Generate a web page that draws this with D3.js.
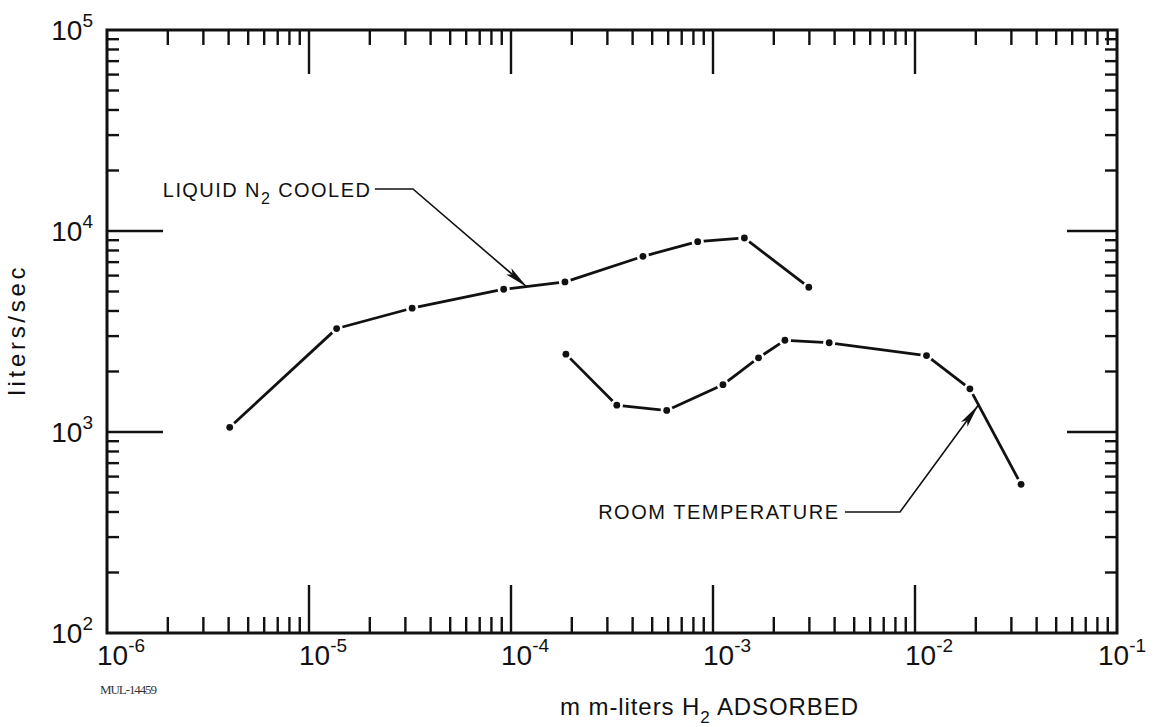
<!DOCTYPE html>
<html>
<head>
<meta charset="utf-8">
<script src="https://cdn.jsdelivr.net/npm/d3@7"></script>
<style>
  html, body { margin: 0; padding: 0; background: #fff; }
  svg { display: block; }
</style>
</head>
<body>
<div id="chart"></div>
<script>
// values (mm-liters H2 adsorbed vs liters/sec)
const n2Adsorbed = [4.05e-6, 1.37e-5, 3.24e-5, 9.2e-5, 1.85e-4, 4.5e-4, 8.4e-4, 1.43e-3, 2.98e-3];
const n2Speed = [1055, 3270, 4130, 5130, 5580, 7480, 8850, 9230, 5250];

const roomAdsorbed = [1.87e-4, 3.34e-4, 5.9e-4, 1.12e-3, 1.68e-3, 2.27e-3, 3.76e-3, 1.14e-2, 1.87e-2, 3.35e-2];
const roomSpeed = [2440, 1360, 1280, 1720, 2340, 2860, 2780, 2400, 1640, 549];

const xExponents = [-6, -5, -4, -3, -2, -1];
const yExponents = [2, 3, 4, 5];

// annotation anchors, in data units
const n2LabelAt = [1.89e-6, 14760];
const n2Leader = [[2.12e-5, 16180], [3.27e-5, 16180], [1.2e-4, 5265]];
const roomLabelAt = [2.7e-4, 369];
const roomLeader = [[4.5e-3, 400], [8.43e-3, 400], [2.06e-2, 1362]];

const WIDTH = 1160, HEIGHT = 727;
const LEFT = 107, RIGHT = 1117, TOP = 30, BOTTOM = 633;
const DOT_R = 3.4;
const GAP = 6;
const FONT = '"Liberation Sans", Arial, sans-serif';

const x = d3.scaleLog().domain([1e-6, 1e-1]).range([LEFT, RIGHT]);
const y = d3.scaleLog().domain([1e2, 1e5]).range([BOTTOM, TOP]);

const svg = d3.select('#chart').append('svg')
    .attr('width', WIDTH)
    .attr('height', HEIGHT)
    .attr('viewBox', [0, 0, WIDTH, HEIGHT]);

svg.append('rect').attr('width', WIDTH).attr('height', HEIGHT).attr('fill', '#fff');

svg.append('defs').append('marker')
    .attr('id', 'arrow')
    .attr('viewBox', '0 -5 24 10')
    .attr('refX', 24)
    .attr('refY', 0)
    .attr('markerUnits', 'userSpaceOnUse')
    .attr('markerWidth', 24)
    .attr('markerHeight', 10)
    .attr('orient', 'auto')
    .append('path')
    .attr('d', 'M0,-4L24,0L0,4L5,0Z')
    .attr('fill', '#111');

// frame
svg.append('rect')
    .attr('x', LEFT).attr('y', TOP)
    .attr('width', RIGHT - LEFT).attr('height', BOTTOM - TOP)
    .attr('fill', 'none')
    .attr('stroke', '#111')
    .attr('stroke-width', 3);

// ticks: minor 2..9 per decade, longer at inner decades
const isDecade = v => Math.abs(Math.log10(v) - Math.round(Math.log10(v))) < 1e-9;
const xTicks = x.ticks().filter(v => v > 1e-6 * 1.0001 && v < 1e-1 * 0.9999);
const yTicks = y.ticks().filter(v => v > 1e2 * 1.0001 && v < 1e5 * 0.9999);

const ticks = svg.append('g').attr('stroke', '#111').attr('stroke-width', 2.4);

ticks.selectAll('.tb').data(xTicks).join('line')
    .attr('x1', d => x(d)).attr('x2', d => x(d))
    .attr('y1', BOTTOM).attr('y2', d => BOTTOM - (isDecade(d) ? 48 : 16));
ticks.selectAll('.tt').data(xTicks).join('line')
    .attr('x1', d => x(d)).attr('x2', d => x(d))
    .attr('y1', TOP).attr('y2', d => TOP + (isDecade(d) ? 44 : 15));
ticks.selectAll('.tl').data(yTicks).join('line')
    .attr('y1', d => y(d)).attr('y2', d => y(d))
    .attr('x1', LEFT).attr('x2', d => LEFT + (isDecade(d) ? 56 : 12));
ticks.selectAll('.tr').data(yTicks).join('line')
    .attr('y1', d => y(d)).attr('y2', d => y(d))
    .attr('x1', RIGHT).attr('x2', d => RIGHT - (isDecade(d) ? 50 : 12));

// tick labels with superscript exponents
const xLab = svg.append('g').attr('font-family', FONT).attr('fill', '#111')
    .selectAll('text').data(xExponents).join('text')
    .attr('x', d => x(Math.pow(10, d)) + (d === -1 ? 5 : 14))
    .attr('y', BOTTOM + 32)
    .attr('text-anchor', 'middle')
    .attr('font-size', 28);
xLab.append('tspan').text('10');
xLab.append('tspan').attr('font-size', 19).attr('dy', -13).text(d => '-' + Math.abs(d));

const yLab = svg.append('g').attr('font-family', FONT).attr('fill', '#111')
    .selectAll('text').data(yExponents).join('text')
    .attr('x', LEFT - 14)
    .attr('y', d => y(Math.pow(10, d)) + 10)
    .attr('text-anchor', 'end')
    .attr('font-size', 28);
yLab.append('tspan').text('10');
yLab.append('tspan').attr('font-size', 19).attr('dy', -13).text(d => d);

// axis titles
svg.append('text')
    .attr('transform', `translate(25,${(y(1e3) + y(1e4)) / 2})rotate(-90)`)
    .attr('text-anchor', 'middle')
    .attr('font-family', FONT)
    .attr('font-size', 24)
    .attr('fill', '#111')
    .attr('textLength', 128)
    .attr('lengthAdjust', 'spacing')
    .text('liters/sec');

const xTitle = svg.append('text')
    .attr('x', 560)
    .attr('y', 715)
    .attr('font-family', FONT)
    .attr('font-size', 24)
    .attr('fill', '#111')
    .attr('textLength', 298)
    .attr('lengthAdjust', 'spacing');
xTitle.append('tspan').text('m m-liters H');
xTitle.append('tspan').attr('font-size', 17).attr('dy', 8).text('2');
xTitle.append('tspan').attr('dy', -8).text(' ADSORBED');

svg.append('text')
    .attr('x', 100)
    .attr('y', 694)
    .attr('font-family', '"Liberation Serif", "DejaVu Serif", serif')
    .attr('font-size', 13)
    .attr('fill', '#333')
    .attr('textLength', 57)
    .text('MUL-14459');

// series: segments stop short of each dot
function drawSeries(xs, ys) {
    const pts = xs.map((v, i) => [x(v), y(ys[i])]);
    const segs = d3.pairs(pts).map(([a, b]) => {
        const dx = b[0] - a[0], dy = b[1] - a[1];
        const len = Math.hypot(dx, dy);
        const ux = dx / len, uy = dy / len;
        return [a[0] + ux * GAP, a[1] + uy * GAP, b[0] - ux * GAP, b[1] - uy * GAP];
    });
    const g = svg.append('g');
    g.selectAll('line').data(segs).join('line')
        .attr('x1', d => d[0]).attr('y1', d => d[1])
        .attr('x2', d => d[2]).attr('y2', d => d[3])
        .attr('stroke', '#111')
        .attr('stroke-width', 2.8);
    g.selectAll('circle').data(pts).join('circle')
        .attr('cx', d => d[0]).attr('cy', d => d[1])
        .attr('r', DOT_R)
        .attr('fill', '#111');
}
drawSeries(n2Adsorbed, n2Speed);
drawSeries(roomAdsorbed, roomSpeed);

// annotations
const leaderLine = d3.line().x(d => x(d[0])).y(d => y(d[1]));
[n2Leader, roomLeader].forEach(pts => {
    svg.append('path')
        .attr('d', leaderLine(pts))
        .attr('fill', 'none')
        .attr('stroke', '#111')
        .attr('stroke-width', 1.6)
        .attr('marker-end', 'url(#arrow)');
});

const n2Text = svg.append('text')
    .attr('x', x(n2LabelAt[0]))
    .attr('y', y(n2LabelAt[1]))
    .attr('font-family', FONT)
    .attr('font-size', 20)
    .attr('fill', '#111')
    .attr('textLength', 207)
    .attr('lengthAdjust', 'spacing');
n2Text.append('tspan').text('LIQUID N');
n2Text.append('tspan').attr('font-size', 16).attr('dy', 7).text('2');
n2Text.append('tspan').attr('dy', -7).text(' COOLED');

svg.append('text')
    .attr('x', x(roomLabelAt[0]))
    .attr('y', y(roomLabelAt[1]))
    .attr('font-family', FONT)
    .attr('font-size', 20)
    .attr('fill', '#111')
    .attr('textLength', 240)
    .attr('lengthAdjust', 'spacing')
    .text('ROOM TEMPERATURE');
</script>
</body>
</html>
